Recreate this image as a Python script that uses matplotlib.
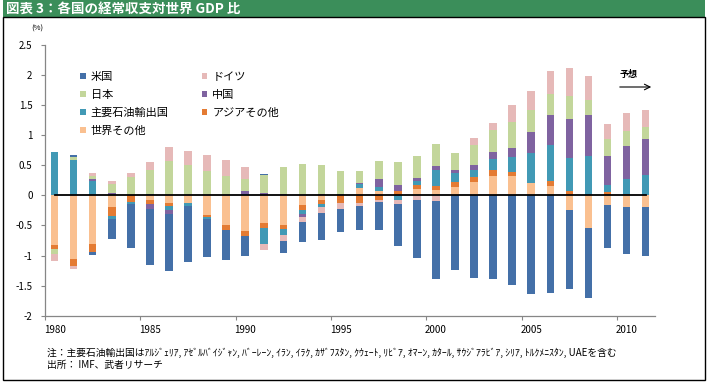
import matplotlib
matplotlib.use('Agg')
import matplotlib.pyplot as plt
from matplotlib.patches import Rectangle, Patch
import numpy as np

plt.rcParams['font.family'] = ['Noto Sans CJK JP', 'DejaVu Sans']

years = list(range(1980, 2012))

us = [0.0, 0.04, -0.05, -0.33, -0.74, -0.92, -0.96, -0.93, -0.64, -0.49,
      -0.34, 0.015, -0.21, -0.33, -0.45, -0.39, -0.40, -0.47, -0.71, -0.96,
      -1.29, -1.24, -1.38, -1.39, -1.49, -1.64, -1.62, -1.31, -1.16, -0.72,
      -0.79, -0.81]
germany = [-0.12, -0.04, 0.045, 0.05, 0.07, 0.13, 0.24, 0.24, 0.26, 0.26,
           0.20, -0.10, -0.09, -0.09, -0.10, -0.10, -0.05, -0.03, -0.055, -0.08,
           -0.10, 0.0, 0.12, 0.12, 0.28, 0.32, 0.39, 0.45, 0.39, 0.25,
           0.30, 0.29]
japan = [-0.083, 0.05, 0.05, 0.14, 0.30, 0.41, 0.57, 0.50, 0.41, 0.33,
         0.20, 0.29, 0.44, 0.52, 0.48, 0.38, 0.20, 0.31, 0.39, 0.36,
         0.365, 0.29, 0.34, 0.37, 0.43, 0.37, 0.34, 0.39, 0.26, 0.28,
         0.25, 0.20]
china = [0.0, 0.0, 0.04, 0.045, 0.0, -0.08, -0.055, 0.0, 0.0, 0.0,
         0.05, 0.045, 0.03, -0.045, 0.03, 0.0, 0.02, 0.12, 0.10, 0.05,
         0.06, 0.045, 0.08, 0.12, 0.15, 0.34, 0.51, 0.65, 0.68, 0.48,
         0.54, 0.59]
oil = [0.72, 0.58, 0.24, -0.04, -0.03, 0.02, -0.08, -0.04, -0.03, 0.0,
       0.03, -0.25, -0.10, -0.07, -0.045, 0.02, 0.06, 0.065, -0.08, 0.06,
       0.27, 0.15, 0.11, 0.17, 0.25, 0.51, 0.59, 0.54, 0.65, 0.11,
       0.26, 0.34]
asia = [-0.066, -0.12, -0.14, -0.15, -0.11, -0.07, -0.04, 0.0, -0.03, -0.09,
        -0.08, -0.09, -0.07, -0.08, -0.08, -0.12, -0.13, -0.08, 0.07, 0.08,
        0.066, 0.08, 0.08, 0.10, 0.06, 0.0, 0.09, 0.08, 0.0, 0.06,
        0.02, 0.0]
world = [-0.83, -1.06, -0.80, -0.20, 0.0, -0.08, -0.13, -0.13, -0.33, -0.49,
         -0.59, -0.46, -0.49, -0.16, -0.07, 0.0, 0.13, 0.08, 0.0, 0.10,
         0.09, 0.14, 0.23, 0.33, 0.33, 0.20, 0.15, -0.24, -0.54, -0.16,
         -0.19, -0.20]

names = ['米国', 'ドイツ', '日本', '中国', '主要石油輸出国', 'アジアその他', '世界その他']
colors = {'米国': '#4470A8', 'ドイツ': '#E6B9B8', '日本': '#C3D69B', '中国': '#7F63A0',
          '主要石油輸出国': '#4199B5', 'アジアその他': '#E47B33', '世界その他': '#FAC090'}
series = {'米国': us, 'ドイツ': germany, '日本': japan, '中国': china,
          '主要石油輸出国': oil, 'アジアその他': asia, '世界その他': world}
stack_order = ['世界その他', 'アジアその他', '主要石油輸出国', '中国', '日本', 'ドイツ', '米国']

W, H = 711, 385
fig = plt.figure(figsize=(W / 100, H / 100), dpi=100)


def fx(px):
    return px / W


def fy(py):
    return 1 - py / H


# title bar and frame
fig.patches.append(Rectangle((fx(3), fy(17)), fx(702), 17 / H, transform=fig.transFigure,
                             facecolor='#3B8E5A', edgecolor='none'))
fig.text(fx(6), fy(9), '図表 3：各国の経常収支対世界 GDP 比', color='white', fontsize=9.7,
         fontweight='bold', va='center', ha='left')
fig.patches.append(Rectangle((fx(3), fy(380)), fx(702), (380 - 17) / H, transform=fig.transFigure,
                             fill=False, edgecolor='black', lw=1))

ax = fig.add_axes([fx(45), fy(315.7), fx(610.2), (315.7 - 45) / H])
x = np.arange(len(years))
pos = np.zeros(len(years))
neg = np.zeros(len(years))
for nm in stack_order:
    v = np.array(series[nm], dtype=float)
    bottom = np.where(v >= 0, pos, neg)
    ax.bar(x, v, width=0.4, bottom=bottom, color=colors[nm], linewidth=0)
    pos += np.clip(v, 0, None)
    neg += np.clip(v, None, 0)

ax.plot([x[0], x[-1]], [0, 0], color='black', lw=1.3)

ax.set_xlim(-0.5, len(years) - 0.5)
ax.set_ylim(-2, 2.5)
yt = np.arange(-2, 2.51, 0.5)
ax.set_yticks(yt, labels=[('%g' % v) for v in yt])
major_x = np.arange(-0.5, len(years), 5)
ax.set_xticks(major_x, labels=[''] * len(major_x))
lab_pos = [i for i, yv in enumerate(years) if yv % 5 == 0]
ax.set_xticks(lab_pos, labels=[str(years[i]) for i in lab_pos], minor=True)
ax.tick_params(axis='x', which='minor', length=0, pad=7, labelsize=7)
ax.tick_params(axis='x', which='major', length=3, color='#868686')
ax.tick_params(axis='y', length=3, color='#868686', pad=6, labelsize=7)
for s in ['top', 'right']:
    ax.spines[s].set_visible(False)
for s in ['left', 'bottom']:
    ax.spines[s].set_color('#868686')
    ax.spines[s].set_linewidth(0.9)
ax.set_facecolor('none')

legend_order = ['米国', '日本', '主要石油輸出国', '世界その他', 'ドイツ', '中国', 'アジアその他']
handles = [Patch(facecolor=colors[n], edgecolor='none', label=n) for n in legend_order]
fig.legend(handles=handles, loc='upper left', bbox_to_anchor=(fx(80), fy(72)),
           bbox_transform=fig.transFigure, frameon=False, ncol=2, fontsize=8,
           handlelength=0.5, handleheight=0.5, handletextpad=0.45, labelspacing=0.70,
           columnspacing=3.0, borderpad=0, borderaxespad=0)

fig.text(fx(37), fy(29), '(%)', fontsize=5.5, ha='center', va='center')
fig.text(fx(629), fy(75), '予想', fontsize=6.5, fontweight='bold', ha='center', va='center')
ax.annotate('', xy=(fx(654), fy(87)), xytext=(fx(617), fy(87)), xycoords='figure fraction',
            textcoords='figure fraction',
            arrowprops=dict(arrowstyle='->', color='black', lw=0.8))

note = ('注：主要石油輸出国はｱﾙｼﾞｪﾘｱ, ｱｾﾞﾙﾊﾞｲｼﾞｬﾝ, ﾊﾞｰﾚｰﾝ, ｲﾗﾝ, ｲﾗｸ, ｶｻﾞﾌｽﾀﾝ, ｸｳｪｰﾄ, '
        'ﾘﾋﾞｱ, ｵﾏｰﾝ, ｶﾀｰﾙ, ｻｳｼﾞｱﾗﾋﾞｱ, ｼﾘｱ, ﾄﾙｸﾒﾆｽﾀﾝ, UAEを含む')
fig.text(fx(47), fy(353), note, fontsize=7.0, va='center', ha='left')
fig.text(fx(47), fy(365), '出所： IMF、武者リサーチ', fontsize=7.0, va='center', ha='left')

fig.savefig('out.png', dpi=100)
